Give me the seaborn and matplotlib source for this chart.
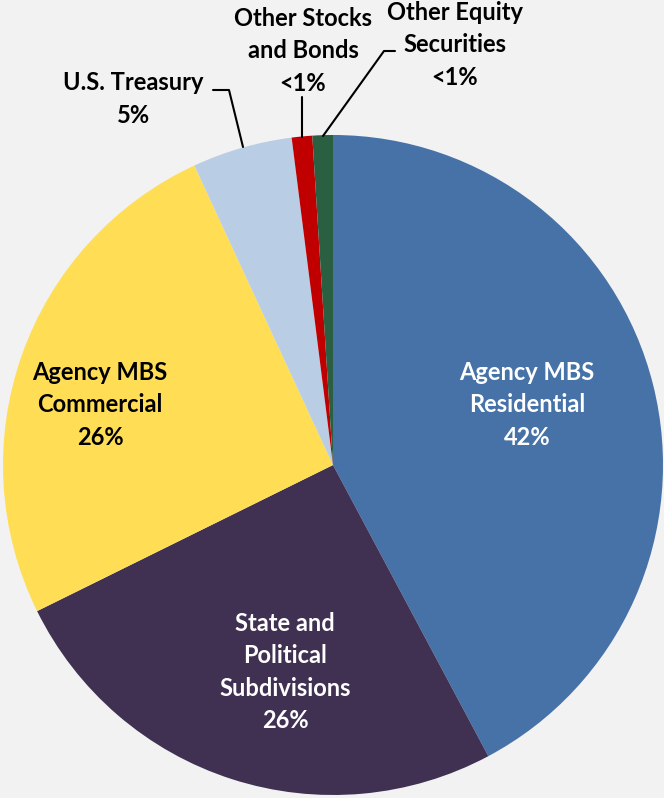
import numpy as np
import seaborn as sns
from matplotlib import pyplot as plt

categories = ["Agency MBS Residential", "State and Political Subdivisions",
              "Agency MBS Commercial", "U.S. Treasury",
              "Other Stocks and Bonds", "Other Equity Securities"]
values = [42.2, 25.5, 25.4, 4.9, 1.0, 1.0]
pct_labels = ["42%", "26%", "26%", "5%", "<1%", "<1%"]
colors = ["#4672A7", "#403152", "#FFDE55", "#B9CDE4", "#C00000", "#2A6041"]

sns.set_theme(style="white")
plt.rcParams["font.family"] = ["Lato", "DejaVu Sans"]

W, H = 664, 798
fig = plt.figure(figsize=(W / 100, H / 100), dpi=100, facecolor="#F2F2F2")
ax = fig.add_axes([0, 0, 1, 1])
ax.set_facecolor("#F2F2F2")

cx, cy, r = 333, H - 465, 330
ax.pie(values, colors=colors, startangle=90, counterclock=False,
       center=(cx, cy), radius=r, wedgeprops=dict(linewidth=0))
ax.set_xlim(0, W)
ax.set_ylim(0, H)
ax.set_aspect("equal")
ax.axis("off")

fs = 17
kw = dict(ha="center", va="center", fontsize=fs, fontweight="bold", linespacing=1.48)

# labels inside the slices
ax.text(527, H - 405, "Agency MBS\nResidential\n" + pct_labels[0], color="white", **kw)
ax.text(285, H - 672, "State and\nPolitical\nSubdivisions\n" + pct_labels[1], color="white", **kw)
ax.text(100, H - 405, "Agency MBS\nCommercial\n" + pct_labels[2], color="black", **kw)

# labels outside with leader lines
ax.text(133, H - 99, "U.S. Treasury\n" + pct_labels[3], color="black", **kw)
ax.text(303, H - 51, "Other Stocks\nand Bonds\n" + pct_labels[4], color="black", **kw)
ax.text(455, H - 45, "Other Equity\nSecurities\n" + pct_labels[5], color="black", **kw)

ax.plot([213, 229, 243], [H - 90, H - 90, H - 147], color="black", lw=1.5)
ax.plot([302, 302], [H - 97, H - 137], color="black", lw=1.5)
ax.plot([395, 384, 323], [H - 51, H - 51, H - 136], color="black", lw=1.5)

fig.savefig("out.png", dpi=100, facecolor=fig.get_facecolor())
